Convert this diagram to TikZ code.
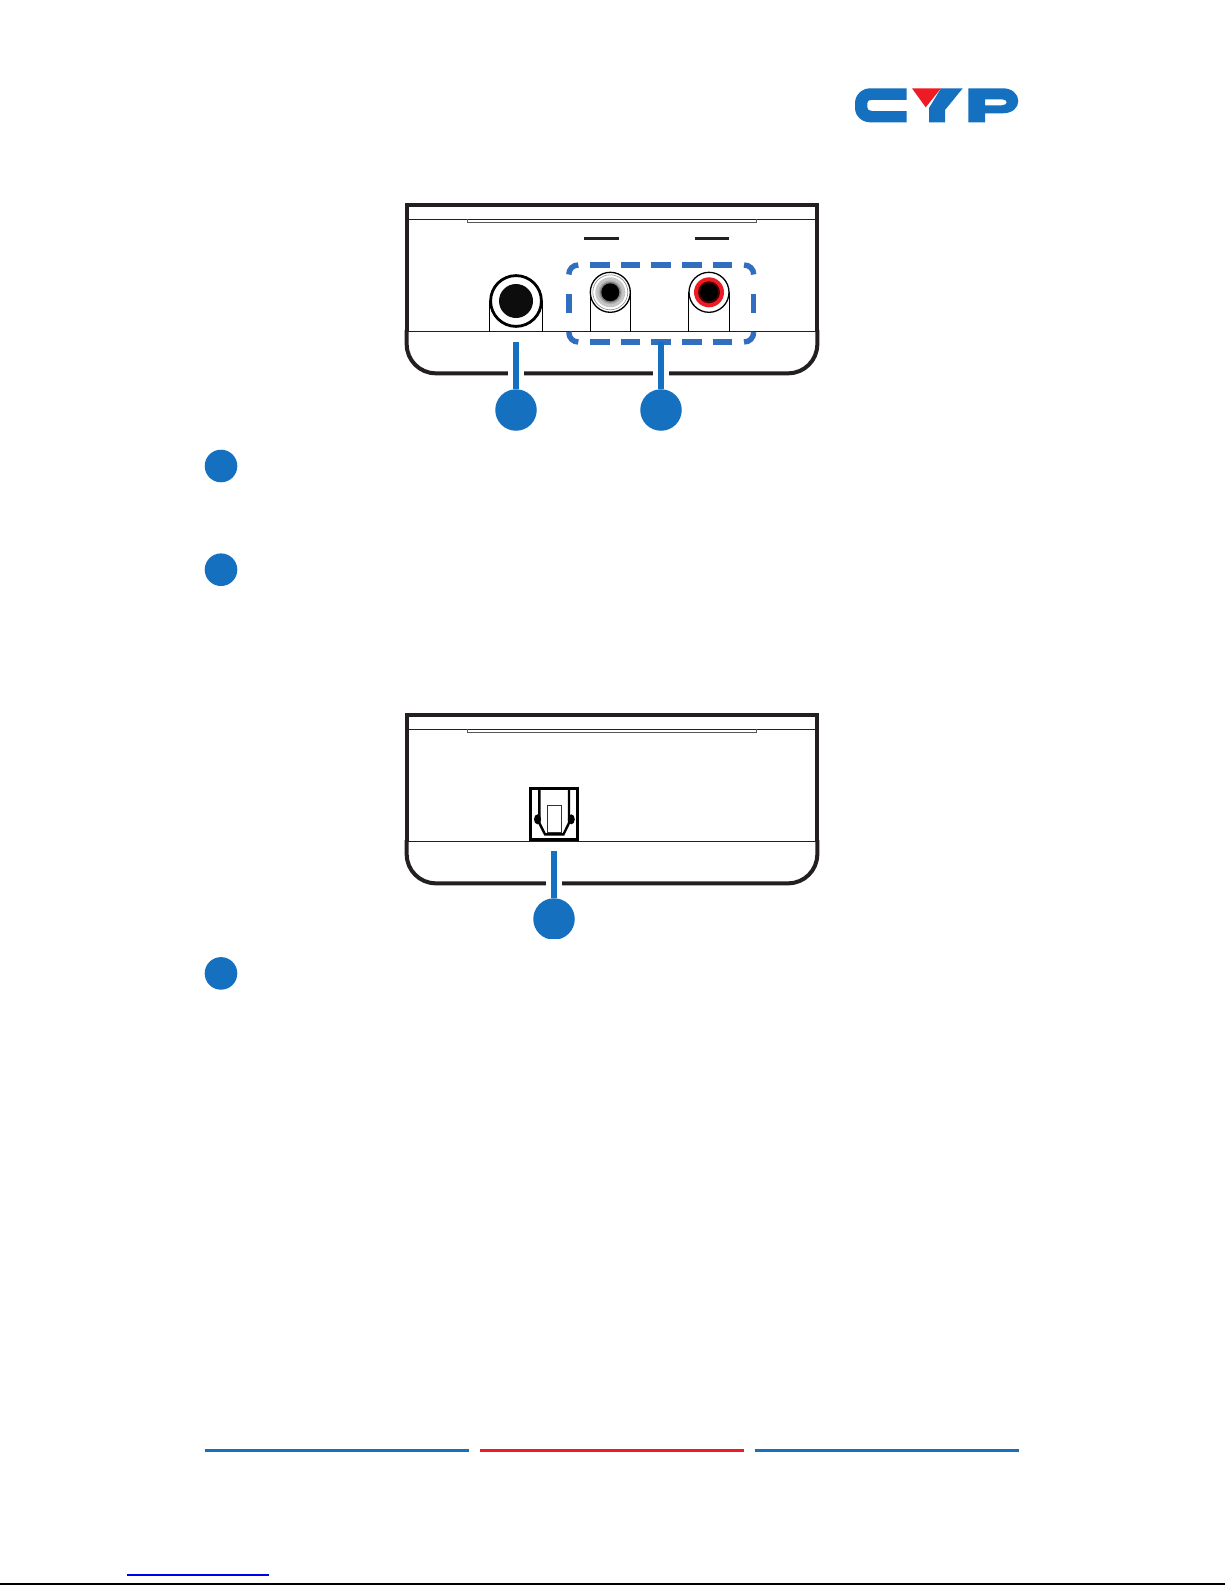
\documentclass[tikz,border=0pt]{standalone}
\usetikzlibrary{calc}
\definecolor{cypblue}{HTML}{1570BF}
\definecolor{cypred}{HTML}{ED1C24}
\definecolor{dashblue}{HTML}{326EBF}
\definecolor{inkk}{HTML}{231F20}
\tikzset{
  badge/.style={circle,fill=cypblue,inner sep=0pt,minimum size=41.5pt},
  sidebadge/.style={circle,fill=cypblue,inner sep=0pt,minimum size=32.6pt},
  leader/.style={draw=cypblue,line width=6pt},
  halo/.style={draw=white,line width=16pt},
  wall/.style={draw=inkk,line width=4pt},
  thin rule/.style={draw=inkk,line width=1.3pt},
  portline/.style={draw=black,line width=1.3pt},
  dashseg/.style={draw=dashblue,line width=5.4pt},
  rule/.style={line width=3pt}
}
\newcommand{\housing}[1]{%
  \begin{scope}[shift={(0,#1)}]
    \draw[wall,line join=miter] (406.7,331) -- (406.7,205.3) -- (817.3,205.3) -- (817.3,331);
    \draw[wall] (406.7,330) -- (406.7,344.3) .. controls (406.7,360.3) and (419.7,373.3) .. (435.7,373.3) -- (788.3,373.3) .. controls (804.3,373.3) and (817.3,360.3) .. (817.3,344.3) -- (817.3,330);
    \draw[thin rule] (406.7,219.3) -- (817.3,219.3);
    \draw[draw=inkk!75,line width=1pt] (467.2,219.3) -- (467.2,222) -- (756,222) -- (756,219.3);
    \draw[thin rule] (406.7,331.7) -- (817.3,331.7);
  \end{scope}}
\begin{document}
\begin{tikzpicture}[x=1pt,y=-1pt]
\useasboundingbox (0,0) rectangle (1225,1585);
\fill[white] (0,0) rectangle (1225,1585);

% logo
\fill[cypblue] (906.7,88.3) -- (870,88.3) .. controls (862,88.3) and (855,95) .. (855,103) -- (855,108) .. controls (855,116) and (862,122.3) .. (870,122.3) -- (906.7,122.3) -- (906.7,111) -- (872,111) .. controls (869,111) and (867.3,109.5) .. (867.3,107.5) -- (867.3,103) .. controls (867.3,101) and (869,99.8) .. (872,99.8) -- (906.7,99.8) -- cycle;
\fill[cypblue] (941,88.3) -- (962.7,88.3) -- (945,110) -- (945,122.3) -- (929,122.3) -- (929,108) -- cycle;
\fill[cypred] (912,88.3) -- (941,88.3) -- (925.7,107.3) -- cycle;
\fill[cypblue,even odd rule] (968.3,88.3) -- (1003,88.3) .. controls (1012,88.3) and (1018.3,94) .. (1018.3,101) .. controls (1018.3,108) and (1012,113.3) .. (1003,113.3) -- (985,113.3) -- (985,122.3) -- (968.3,122.3) -- cycle
 (985,99.3) -- (1002,99.3) .. controls (1005,99.3) and (1006.7,100.8) .. (1006.7,102.3) .. controls (1006.7,103.8) and (1005,105.3) .. (1002,105.3) -- (985,105.3) -- cycle;

% first housing
\housing{0}
\draw[rule,draw=inkk] (584,238.3) -- (619,238.3);
\draw[rule,draw=inkk] (695,238.3) -- (729,238.3);

% jack
\draw[portline] (489.7,301) -- (489.7,331.7) (542.3,301) -- (542.3,331.7);
\fill[white] (516,301) circle[radius=25.5];
\draw[draw=black,line width=2.8pt] (516,301) circle[radius=25.4];
\fill[black!95] (516,301) circle[radius=17];

% RCA white
\draw[portline] (590.3,292.3) -- (590.3,331.7) (630.7,292.3) -- (630.7,331.7);
\fill[white] (610.3,292.3) circle[radius=19.5];
\draw[portline] (610.3,292.3) circle[radius=20];
\draw[draw=black!45,line width=.6pt] (610.3,292.3) circle[radius=17.5];
\fill[black!22] (610.3,292.3) circle[radius=15];
\fill[black!32] (610.3,292.3) circle[radius=12];
\fill[black!50] (610.3,292.3) circle[radius=10.5];
\fill[black] (610.3,292.3) circle[radius=9];

% RCA red
\draw[portline] (688.7,292.3) -- (688.7,331.7) (729.3,292.3) -- (729.3,331.7);
\fill[white] (709,292.3) circle[radius=19.5];
\draw[portline] (709,292.3) circle[radius=20];
\fill[cypred] (709,292.3) circle[radius=15];
\fill[black!70!red] (709,292.3) circle[radius=11];
\fill[black] (709,292.3) circle[radius=9];

% dashed group
\begin{scope}[dashseg]
  \foreach \x/\y in {590/610,621/640,651/671,682.3/702,712.7/732}
    \draw (\x,265) -- (\y,265) (\x,342) -- (\y,342);
  \draw (568.8,294) -- (568.8,313);
  \draw (753.7,294) -- (753.7,313);
  \draw (568.8,274.5) .. controls (568.8,269) and (573,265) .. (578.3,265);
  \draw (753.7,274.5) .. controls (753.7,269) and (749.5,265) .. (744,265);
  \draw (568.8,332) .. controls (568.8,338) and (573,342) .. (578.3,342);
  \draw (753.7,332) .. controls (753.7,338) and (749.5,342) .. (744,342);
\end{scope}

% leaders and badges, first housing
\node[badge] (b1) at (516,410) {};
\node[badge] (b2) at (661,410) {};
\coordinate (c1) at (516,342);
\coordinate (c2) at (661,342);
\coordinate (h1a) at (516,373.3);
\coordinate (h1b) at (661,373.3);
\draw[halo] ($(h1a)+(0,-2.5)$) -- ($(h1a)+(0,2.5)$);
\draw[halo] ($(h1b)+(0,-2.5)$) -- ($(h1b)+(0,2.5)$);
\draw[leader] (c1) -- (b1);
\draw[leader] (c2) -- (b2);

\node[sidebadge] (s1) at (221,466) {};
\node[sidebadge] (s2) at (221,569.7) {};

% second housing
\housing{510}

% optical port
\draw[draw=black,line width=3pt] (530.8,788.8) rectangle (577.2,839.8);
\fill[black] (537.5,819.3) ellipse[x radius=3.5,y radius=5] (571.3,819.3) ellipse[x radius=3.5,y radius=5];
\draw[draw=black,line width=2.4pt] (539.3,788) -- (539.3,823) -- (545,834.3) -- (563.5,834.3) -- (569,823) -- (569,788);
\draw[draw=black!80,line width=.9pt,fill=white] (547.3,805) rectangle (561.3,832.3);

% leader and badge, second housing
\begin{scope}
  \clip (0,0) rectangle (1225,938.5);
  \node[badge] (b3) at (554,919) {};
\end{scope}
\coordinate (c3) at (554,851);
\coordinate (h2) at (554,883.3);
\draw[halo] ($(h2)+(0,-2.5)$) -- ($(h2)+(0,2.5)$);
\draw[leader] (c3) -- (b3);

\node[sidebadge] (s3) at (221,973.4) {};

% footer
\draw[rule,draw=cypblue] (204.7,1450) -- (468.8,1450);
\draw[rule,draw=cypred] (479.7,1450) -- (743.8,1450);
\draw[rule,draw=cypblue] (754.7,1450) -- (1018.8,1450);
\draw[draw=blue!90!black,line width=1.2pt] (127.3,1575) -- (268.8,1575);
\draw[draw=black,line width=2pt] (0,1584) -- (1225,1584);
\end{tikzpicture}
\end{document}
